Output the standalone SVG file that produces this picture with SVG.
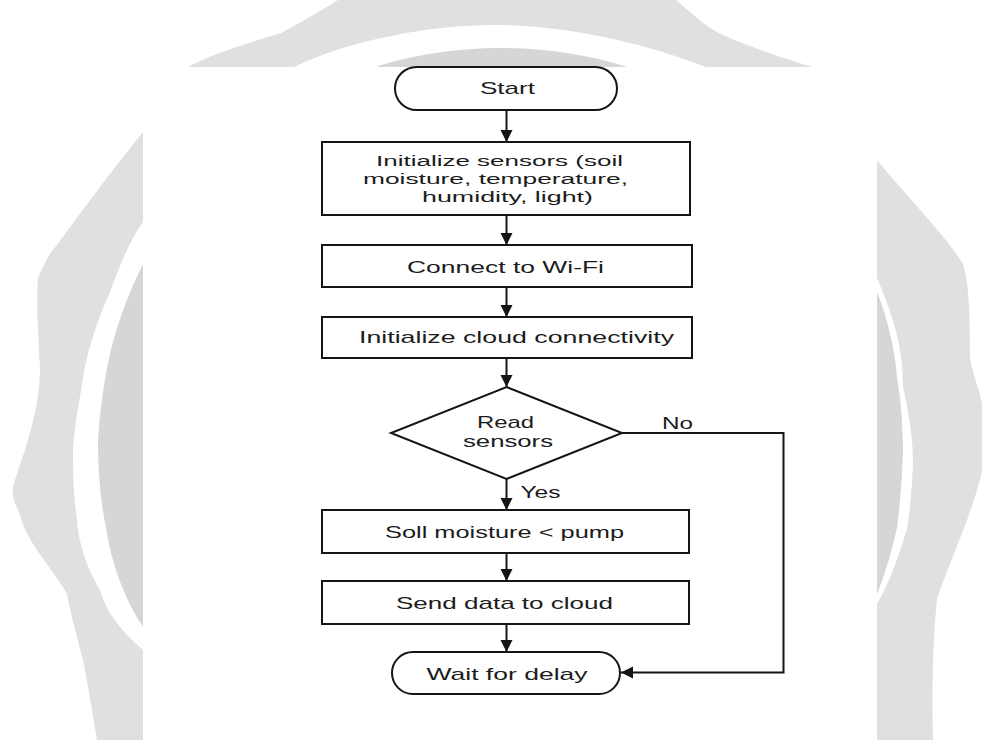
<svg xmlns="http://www.w3.org/2000/svg" width="982" height="740" viewBox="0 0 982 740">
<style>
.box{fill:#fff;stroke:#151515;stroke-width:2}
.t{font-family:"Liberation Sans",Arial,sans-serif;font-size:17px;fill:#1c1c1c}
.m{font-size:15.5px}
.c{fill:none;stroke:#151515;stroke-width:2}
</style>
<defs>
<marker id="ah" markerUnits="userSpaceOnUse" markerWidth="14" markerHeight="14" viewBox="0 0 14 14" refX="12" refY="7" orient="auto">
<path d="M0,1 L12,7 L0,13 Z" fill="#151515"/>
</marker>
</defs>
<rect width="982" height="740" fill="#fff"/>
<g id="watermark">
<path fill="#e0e0e0" d="M338,0 L676,0 C690,12 705,26 719,33 C750,48 790,60 812,67 C840,95 860,130 877,160 C910,200 945,235 963,264 C970,285 970,330 970,358 C974,380 982,395 982,406 L982,472 C970,520 950,560 937,599 C932,650 932,700 933,740 L97,740 C92,710 88,685 83,660 C75,630 70,610 67,594 C50,565 25,540 20,514 C12,500 12,490 13,486 C25,450 40,410 40,368 C38,330 36,300 38,278 C45,262 50,252 57,245 C90,200 120,160 143,132 C160,110 175,85 188,67 C220,50 260,40 281,33 C305,20 325,8 338,0 Z"/>
<path fill="#ffffff" d="M294,67 C350,40 430,25 494,25 C570,25 650,45 706,67 C800,120 860,190 877,278 C895,320 903,350 903,387 C910,420 913,440 913,462 C912,490 910,510 907,528 C898,560 888,585 877,604 C700,700 300,700 143,650 C120,630 105,610 100,590 C85,565 78,540 77,519 C73,495 73,470 73,448 C75,420 80,400 83,377 C90,340 100,315 110,292 C120,265 130,240 143,222 C180,140 230,95 294,67 Z"/>
<path fill="#d6d6d6" d="M376,67 C410,55 460,48 500,48 C545,48 590,55 627,67 C760,110 860,200 877,292 C888,320 895,350 897,377 C901,400 903,430 903,453 C902,480 900,505 897,528 C892,550 885,575 877,594 C700,680 300,680 143,627 C125,600 112,565 107,533 C100,500 98,470 98,440 C100,410 104,380 110,354 C118,320 130,290 143,264 C190,160 270,100 376,67 Z"/>
</g>
<rect id="panel" x="143" y="67" width="734" height="673" fill="#fff"/>
<g id="connectors">
<line class="c" x1="506.5" y1="110" x2="506.5" y2="142" marker-end="url(#ah)"/>
<line class="c" x1="506.5" y1="215" x2="506.5" y2="245" marker-end="url(#ah)"/>
<line class="c" x1="506.5" y1="287" x2="506.5" y2="317" marker-end="url(#ah)"/>
<line class="c" x1="506.5" y1="358" x2="506.5" y2="387" marker-end="url(#ah)"/>
<line class="c" x1="506.5" y1="479" x2="506.5" y2="510" marker-end="url(#ah)"/>
<line class="c" x1="506.5" y1="553" x2="506.5" y2="581" marker-end="url(#ah)"/>
<line class="c" x1="506.5" y1="624" x2="506.5" y2="652" marker-end="url(#ah)"/>
<polyline class="c" points="622,433 783.5,433 783.5,672.5 621,672.5" marker-end="url(#ah)"/>
<text class="t" x="520.5" y="497.5" textLength="40" lengthAdjust="spacingAndGlyphs">Yes</text>
<text class="t" x="662" y="429" textLength="31" lengthAdjust="spacingAndGlyphs">No</text>
</g>
<g id="start">
<rect class="box" x="395" y="67" width="222" height="43" rx="21.5"/>
<text class="t" x="480" y="93.5" textLength="55" lengthAdjust="spacingAndGlyphs">Start</text>
</g>
<g id="init-sensors">
<rect class="box" x="322" y="142" width="368" height="73"/>
<text class="t m" x="376" y="165.5" textLength="247" lengthAdjust="spacingAndGlyphs">Initialize sensors (soil</text>
<text class="t m" x="363" y="183.5" textLength="265" lengthAdjust="spacingAndGlyphs">moisture, temperature,</text>
<text class="t m" x="422" y="201.5" textLength="171" lengthAdjust="spacingAndGlyphs">humidity, light)</text>
</g>
<g id="wifi">
<rect class="box" x="322" y="245" width="370" height="42"/>
<text class="t" x="407" y="272.5" textLength="197" lengthAdjust="spacingAndGlyphs">Connect to Wi-Fi</text>
</g>
<g id="cloud">
<rect class="box" x="322" y="317" width="370" height="41"/>
<text class="t" x="359" y="343" textLength="315" lengthAdjust="spacingAndGlyphs">Initialize cloud connectivity</text>
</g>
<g id="read">
<polygon class="box" points="506.5,387 622,433 506.5,479 391,433"/>
<text class="t" x="477" y="427.5" textLength="57" lengthAdjust="spacingAndGlyphs">Read</text>
<text class="t" x="463" y="447" textLength="90" lengthAdjust="spacingAndGlyphs">sensors</text>
</g>
<g id="soil">
<rect class="box" x="322" y="510" width="367" height="43"/>
<text class="t" x="385" y="537.5" textLength="239" lengthAdjust="spacingAndGlyphs">Soll moisture &lt; pump</text>
</g>
<g id="send">
<rect class="box" x="322" y="581" width="367" height="43"/>
<text class="t" x="396" y="608.5" textLength="217" lengthAdjust="spacingAndGlyphs">Send data to cloud</text>
</g>
<g id="wait">
<rect class="box" x="392" y="652" width="228" height="42" rx="21"/>
<text class="t" x="426.5" y="679.5" textLength="161" lengthAdjust="spacingAndGlyphs">Wait for delay</text>
</g>
</svg>
